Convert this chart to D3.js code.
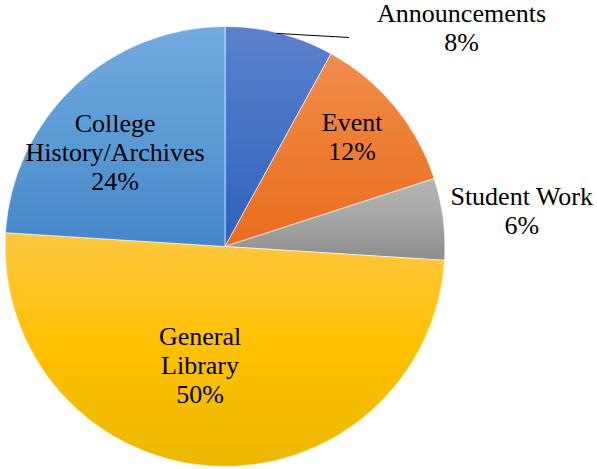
<!DOCTYPE html>
<html>
  <head>
    <meta charset="utf-8">
    <title>Collection share</title>
    <script src="https://d3js.org/d3.v7.min.js"></script>
    <style>
      body { margin: 0; background: #fff; }
    </style>
  </head>
  <body>
    <div class="pie"></div>
    <script>

    // data, clockwise from 12 o'clock
    var categories = ["Announcements", "Event", "Student Work", "General Library", "College History/Archives"];
    var values = [8, 12, 6, 50, 24];
    var labelLines = [["Announcements"], ["Event"], ["Student Work"], ["General", "Library"], ["College", "History/Archives"]];

    // gradient colours per slice: top, middle, bottom
    var colors = [
      ["#5c80ce", "#4472c4", "#2e61be"],
      ["#f18c4e", "#ed7d31", "#ea6c1e"],
      ["#b5b5b5", "#a5a5a5", "#8d8d8d"],
      ["#ffc843", "#ffc000", "#ebb900"],
      ["#73aade", "#5b9bd5", "#4586c8"]
    ];

    // label placement: radius factor of the slice, then a small nudge
    var labelR = [0.65, 0.65, 1.3, 0.65, 0.65];
    var labelNudge = [[201, -80.5], [17, -19], [13, 0], [-16, -24], [-12, 10]];

    var width = 597, height = 469,
        cx = 225, cy = 246.5, radius = 220,
        lineH = 29;

    var svg = d3.select(".pie").append("svg")
      .attr("width", width)
      .attr("height", height);

    var defs = svg.append("defs");
    colors.forEach(function(c, i) {
      var g = defs.append("linearGradient")
        .attr("id", "grad" + i)
        .attr("x1", 0).attr("y1", 0).attr("x2", 0).attr("y2", 1);
      g.append("stop").attr("offset", "0%").attr("stop-color", c[0]);
      g.append("stop").attr("offset", "50%").attr("stop-color", c[1]);
      g.append("stop").attr("offset", "100%").attr("stop-color", c[2]);
    });

    var vis = svg.append("g").attr("transform", "translate(" + cx + "," + cy + ")");

    var pie = d3.pie().sort(null).value(function(d) { return d; });
    var arcs = pie(values);

    var arc = d3.arc().outerRadius(radius).innerRadius(0);

    vis.selectAll("path.slice")
      .data(arcs)
      .enter()
      .append("path")
      .attr("class", "slice")
      .attr("d", arc)
      .attr("fill", function(d, i) { return "url(#grad" + i + ")"; })
      .attr("stroke", "#ffffff")
      .attr("stroke-width", 0.6);

    // labels
    arcs.forEach(function(d, i) {
      var r = radius * labelR[i];
      var pt = d3.arc().innerRadius(r).outerRadius(r).centroid(d);
      var x = pt[0] + labelNudge[i][0],
          y = pt[1] + labelNudge[i][1];
      var lines = labelLines[i].concat([values[i] + "%"]);
      var y0 = y - (lines.length - 1) * lineH / 2 + 9;

      var t = vis.append("text")
        .attr("text-anchor", "middle")
        .style("font-family", "'Liberation Serif', 'Times New Roman', Times, serif")
        .style("font-size", "26px")
        .attr("fill", "#000");
      lines.forEach(function(s, j) {
        t.append("tspan")
          .attr("x", x)
          .attr("y", y0 + j * lineH)
          .text(s);
      });

      // leader line for the label that was moved away from its slice
      if (i === 0) {
        var start = d3.arc().innerRadius(radius).outerRadius(radius).centroid(d);
        var bb = t.node().getBBox();
        vis.append("line")
          .attr("x1", start[0] - 3)
          .attr("y1", start[1])
          .attr("x2", bb.x - 28)
          .attr("y2", y + 10)
          .attr("stroke", "#000")
          .attr("stroke-width", 1);
      }
    });

    </script>
  </body>
</html>
